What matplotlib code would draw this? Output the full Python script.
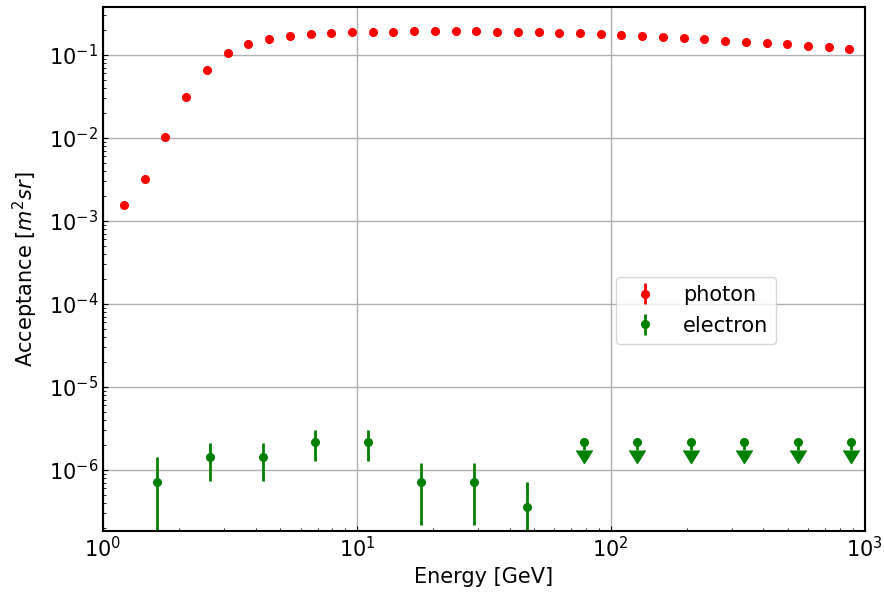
import numpy as np
import matplotlib
matplotlib.use("Agg")
import matplotlib.pyplot as plt

photon_E = [1.210, 1.460, 1.762, 2.127, 2.567, 3.098, 3.739, 4.512, 5.445, 6.572,
            7.931, 9.572, 11.55, 13.94, 16.83, 20.31, 24.51, 29.58, 35.70, 43.08,
            51.99, 62.75, 75.72, 91.38, 110.3, 133.1, 160.6, 193.8, 233.9, 282.3,
            340.7, 411.1, 496.2, 598.8, 722.6, 872.1]
photon_A = [1.56e-3, 3.17e-3, 1.02e-2, 3.09e-2, 6.6e-2, 0.1045, 0.1355, 0.157, 0.171, 0.179,
            0.184, 0.187, 0.190, 0.191, 0.192, 0.192, 0.192, 0.192, 0.191, 0.189,
            0.187, 0.185, 0.184, 0.177, 0.172, 0.167, 0.163, 0.158, 0.154, 0.1486,
            0.143, 0.138, 0.134, 0.129, 0.123, 0.118]
photon_err = [1.0e-5, 2.0e-5, 5.0e-5, 1.0e-4, 2.0e-4, 3.0e-4, 3.0e-4, 3.0e-4, 3.0e-4, 3.0e-4,
              3.0e-4, 3.0e-4, 3.0e-4, 3.0e-4, 3.0e-4, 3.0e-4, 3.0e-4, 3.0e-4, 3.0e-4, 3.0e-4,
              3.0e-4, 3.0e-4, 3.0e-4, 3.0e-4, 3.0e-4, 3.0e-4, 3.0e-4, 3.0e-4, 3.0e-4, 3.0e-4,
              3.0e-4, 3.0e-4, 3.0e-4, 3.0e-4, 3.0e-4, 3.0e-4]

electron_E = [1.63, 2.64, 4.26, 6.87, 11.1, 17.9, 28.9, 46.7]
electron_A = [7.17e-7, 1.43e-6, 1.43e-6, 2.15e-6, 2.15e-6, 7.17e-7, 7.17e-7, 3.59e-7]
electron_err = [7.0e-7, 6.9e-7, 6.9e-7, 8.6e-7, 8.6e-7, 5.0e-7, 5.0e-7, 3.5e-7]

limit_E = [78.6, 127.5, 207.5, 336.7, 546.6, 885.0]
limit_A = [2.15e-6, 2.15e-6, 2.15e-6, 2.15e-6, 2.15e-6, 2.15e-6]
limit_err = [4.0e-7, 4.0e-7, 4.0e-7, 4.0e-7, 4.0e-7, 4.0e-7]

plt.rcParams['font.size'] = 15
fig = plt.figure(figsize=(8.84, 5.93), dpi=100)
ax = fig.add_axes([103/884, 1 - 531/593, (864.5 - 103)/884, (531 - 7)/593])

ax.errorbar(photon_E, photon_A, yerr=photon_err, fmt='o', color='red',
            markersize=5.5, elinewidth=2, label='photon')
ax.errorbar(electron_E, electron_A, yerr=electron_err, fmt='o', color='green',
            markersize=5.5, elinewidth=2, label='electron')
lim = ax.errorbar(limit_E, limit_A, yerr=limit_err, uplims=True, fmt='o', color='green',
                  markersize=5.5, elinewidth=2)
for cl in lim[1]:
    cl.set_markersize(12)

ax.set_xscale('log')
ax.set_yscale('log')
ax.set_xlim(1, 1000)
ax.set_ylim(1.84e-7, 0.378)
ax.grid(True, which='major', color='#b0b0b0', linewidth=1)
ax.tick_params(which='both', direction='in')
ax.set_xlabel('Energy [GeV]')
ax.set_ylabel(r'Acceptance [$m^2sr$]', labelpad=6)
ax.legend(loc='center left', bbox_to_anchor=(0.66, 0.421))
for s in ax.spines.values():
    s.set_linewidth(1.5)

fig.savefig('out.png', dpi=100)
